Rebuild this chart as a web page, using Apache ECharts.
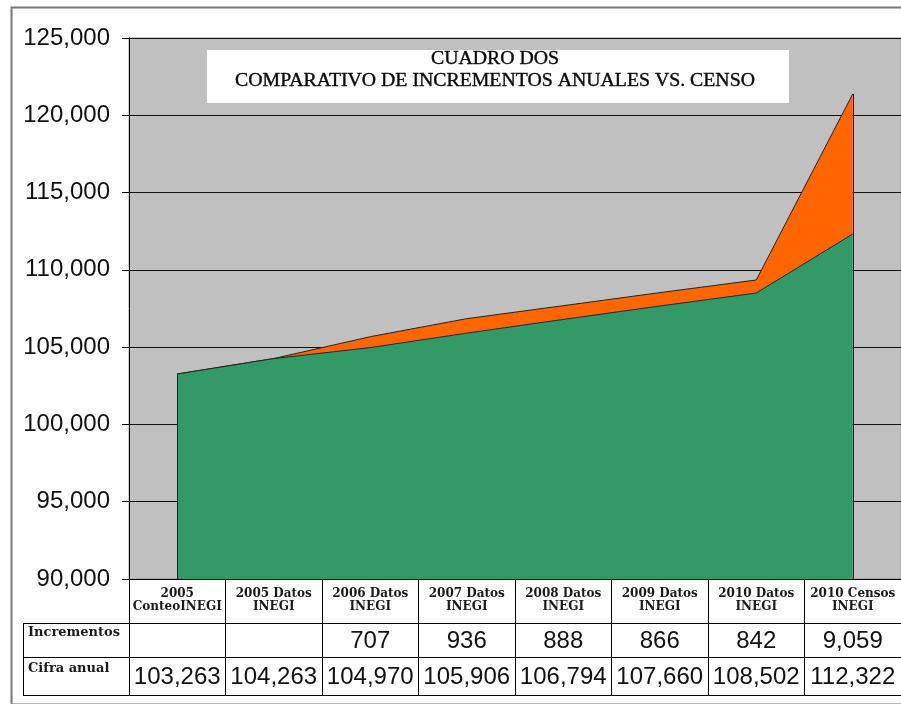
<!DOCTYPE html>
<html>
<head>
<meta charset="utf-8">
<script src="https://cdn.jsdelivr.net/npm/echarts@6/dist/echarts.min.js"></script>
<style>
html,body{margin:0;padding:0;background:#fff;}
#chart{width:901px;height:704px;}
</style>
</head>
<body>
<div id="chart"></div>
<script>
// ---- data ----
const categories = ['2005\nConteoINEGI', '2005 Datos\nINEGI', '2006 Datos\nINEGI', '2007 Datos\nINEGI',
  '2008 Datos\nINEGI', '2009 Datos\nINEGI', '2010 Datos\nINEGI', '2010 Censos\nINEGI'];
const incrementos = [null, null, 707, 936, 888, 866, 842, 9059];
const cifraAnual = [103263, 104263, 104970, 105906, 106794, 107660, 108502, 112322];
const rowHeaders = ['Incrementos', 'Cifra anual'];
const titleLines = ['CUADRO DOS', 'COMPARATIVO DE INCREMENTOS ANUALES VS. CENSO'];
const yMin = 90000, yMax = 125000, yStep = 5000;

function fmt(v) {
  if (v === null || v === undefined) return '';
  return String(v).replace(/\B(?=(\d{3})+(?!\d))/g, ',');
}

const chart = echarts.init(document.getElementById('chart'), null, {renderer: 'canvas'});

const serifBold = {fontFamily: '"DejaVu Serif", serif', fontWeight: 'bold', fontSize: 12, color: '#1a1a1a'};
const sansBig = {fontFamily: '"Liberation Sans", Arial, sans-serif', fontSize: 24, color: '#111'};

const totalTop = cifraAnual.map((v, i) => v + (incrementos[i] || 0));

const option = {
  animation: false,
  backgroundColor: '#fff',
  grid: {
    left: 129, top: 38, width: 776, height: 541,
    show: true, backgroundColor: '#c0c0c0', borderColor: '#9a9a9a', borderWidth: 1
  },
  xAxis: [
    {
      type: 'category', data: categories, boundaryGap: true, position: 'bottom',
      axisLine: {show: true, lineStyle: {color: '#000', width: 1}},
      axisTick: {show: true, length: 44, interval: 0, lineStyle: {color: '#000'}},
      axisLabel: {interval: 0, margin: 8, lineHeight: 13, verticalAlign: 'top', align: 'center', ...serifBold},
      splitLine: {show: false}
    },
    {
      type: 'category', data: categories, boundaryGap: true, position: 'bottom', offset: 44,
      axisLine: {show: true, lineStyle: {color: '#000', width: 1}},
      axisTick: {show: true, length: 34, interval: 0, lineStyle: {color: '#000'}},
      axisLabel: {interval: 0, margin: 18, verticalAlign: 'middle', ...sansBig,
        formatter: (v, i) => fmt(incrementos[i])},
      splitLine: {show: false}
    },
    {
      type: 'category', data: categories, boundaryGap: true, position: 'bottom', offset: 78,
      axisLine: {show: true, lineStyle: {color: '#000', width: 1}},
      axisTick: {show: true, length: 38, interval: 0, lineStyle: {color: '#000'}},
      axisLabel: {interval: 0, margin: 20, verticalAlign: 'middle', ...sansBig,
        formatter: (v, i) => fmt(cifraAnual[i])},
      splitLine: {show: false}
    },
    {
      type: 'category', data: categories, boundaryGap: true, position: 'bottom', offset: 116,
      axisLine: {show: true, lineStyle: {color: '#000', width: 1}},
      axisTick: {show: false}, axisLabel: {show: false}, splitLine: {show: false}
    }
  ],
  yAxis: {
    type: 'value', min: yMin, max: yMax, interval: yStep,
    axisLine: {show: true, lineStyle: {color: '#000', width: 1}},
    axisTick: {show: true, length: 7, lineStyle: {color: '#000'}},
    axisLabel: {margin: 19, ...sansBig, formatter: v => fmt(v)},
    splitLine: {show: true, lineStyle: {color: '#111', width: 1}}
  },
  series: [
    {
      name: 'Cifra anual', type: 'line', stack: 'total', xAxisIndex: 0,
      data: cifraAnual, showSymbol: false, symbol: 'none',
      lineStyle: {color: '#222', width: 1},
      areaStyle: {color: '#339966', opacity: 1},
      z: 3,
      markLine: {
        silent: true, symbol: 'none', label: {show: false},
        lineStyle: {color: '#222', width: 1, type: 'solid'},
        data: [
          [{coord: [0, yMin]}, {coord: [0, cifraAnual[0]]}],
          [{coord: [categories.length - 1, yMin]}, {coord: [categories.length - 1, totalTop[totalTop.length - 1]]}]
        ]
      }
    },
    {
      name: 'Incrementos', type: 'line', stack: 'total', xAxisIndex: 0,
      data: incrementos.map(v => v === null ? 0 : v), showSymbol: false, symbol: 'none',
      lineStyle: {color: '#222', width: 1},
      areaStyle: {color: '#ff6600', opacity: 1},
      z: 2
    }
  ],
  graphic: [
    {
      type: 'rect', left: 9, top: 5, z: -10, silent: true,
      shape: {x: 0, y: 0, width: 1000, height: 697},
      style: {fill: 'none', stroke: '#777', lineWidth: 2}
    },
    {
      type: 'rect', z: 50, silent: true,
      shape: {x: 207, y: 50, width: 582, height: 53},
      style: {fill: '#fff'}
    },
    {
      type: 'text', z: 51, silent: true, x: 495, y: 59,
      style: {text: titleLines[0], fill: '#0a0a0a', stroke: '#0a0a0a', lineWidth: 0.4, font: '19.8px "Liberation Serif", serif', textAlign: 'center', textVerticalAlign: 'middle'}
    },
    {
      type: 'text', z: 51, silent: true, x: 495, y: 80.5,
      style: {text: titleLines[1], fill: '#0a0a0a', stroke: '#0a0a0a', lineWidth: 0.4, font: '19.8px "Liberation Serif", serif', textAlign: 'center', textVerticalAlign: 'middle'}
    },
    // left column of the data table
    {type: 'line', silent: true, z: 10, shape: {x1: 23, y1: 623.5, x2: 129, y2: 623.5}, style: {stroke: '#000', lineWidth: 1}},
    {type: 'line', silent: true, z: 10, shape: {x1: 23, y1: 657.5, x2: 129, y2: 657.5}, style: {stroke: '#000', lineWidth: 1}},
    {type: 'line', silent: true, z: 10, shape: {x1: 23, y1: 695.5, x2: 129, y2: 695.5}, style: {stroke: '#000', lineWidth: 1}},
    {type: 'line', silent: true, z: 10, shape: {x1: 23.5, y1: 623, x2: 23.5, y2: 696}, style: {stroke: '#000', lineWidth: 1}},
    {
      type: 'text', silent: true, z: 10, x: 28, y: 633,
      style: {text: rowHeaders[0], fill: '#1a1a1a', font: 'bold 13px "DejaVu Serif", serif', textVerticalAlign: 'middle'}
    },
    {
      type: 'text', silent: true, z: 10, x: 28, y: 669,
      style: {text: rowHeaders[1], fill: '#1a1a1a', font: 'bold 13px "DejaVu Serif", serif', textVerticalAlign: 'middle'}
    }
  ]
};
chart.setOption(option);
</script>
</body>
</html>
